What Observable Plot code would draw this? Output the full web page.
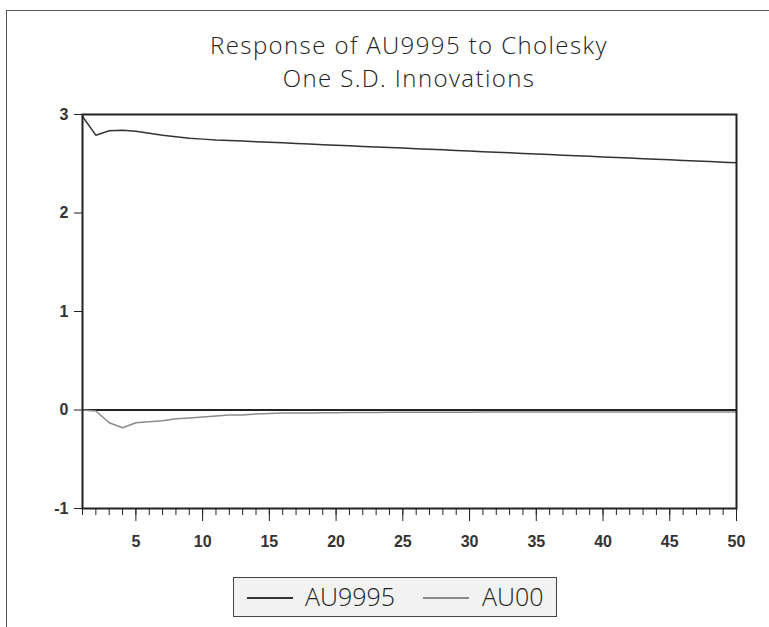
<!DOCTYPE html>
<html><head><meta charset="utf-8">
<script src="https://cdn.jsdelivr.net/npm/d3@7"></script>
<script src="https://cdn.jsdelivr.net/npm/@observablehq/plot@0.6"></script>
<style>
body{margin:0;background:#fff;}
#wrap{position:relative;width:769px;height:627px;overflow:hidden;background:#fff}
#border{position:absolute;left:6px;top:10px;width:800px;height:700px;border-left:1px solid #555;border-top:1px solid #555}
.title{position:absolute;left:59px;width:700px;text-align:center;font-family:"Open Sans",sans-serif;font-weight:300;font-size:24px;letter-spacing:1.4px;line-height:30px;color:#222;white-space:nowrap}
#chart{position:absolute;left:0;top:95px}
#legend{position:absolute;left:233px;top:577px;width:322px;height:38px;border:1px solid #444;background:#f2f2f2;font-family:"Open Sans",sans-serif;font-weight:300;font-size:25px;color:#222}
.sw{position:absolute;top:19px;height:2px;width:46px}
.lt{position:absolute;top:2px;line-height:32px}
</style></head>
<body><div id="wrap">
<div id="border"></div>
<div class="title" style="top:30px">Response of AU9995 to Cholesky</div>
<div class="title" style="top:63px">One S.D. Innovations</div>
<div id="chart"></div>
<div id="legend">
 <div class="sw" style="left:13px;background:#333"></div><div class="lt" style="left:71px">AU9995</div>
 <div class="sw" style="left:189px;background:#8a8a8a"></div><div class="lt" style="left:248px">AU00</div>
</div>
</div>
<script>
const periods = [1,2,3,4,5,6,7,8,9,10,11,12,13,14,15,16,17,18,19,20,21,22,23,24,25,26,27,28,29,30,31,32,33,34,35,36,37,38,39,40,41,42,43,44,45,46,47,48,49,50];
const au9995 = [2.98,2.79,2.835,2.84,2.83,2.81,2.79,2.775,2.76,2.75,2.74,2.735,2.73,2.724,2.718,2.712,2.706,2.700,2.694,2.688,2.682,2.676,2.671,2.665,2.659,2.653,2.647,2.641,2.635,2.629,2.623,2.617,2.611,2.605,2.599,2.593,2.587,2.581,2.575,2.569,2.564,2.558,2.552,2.546,2.540,2.534,2.528,2.522,2.516,2.510];
const au00 = [0.0,-0.01,-0.13,-0.18,-0.13,-0.12,-0.11,-0.09,-0.08,-0.07,-0.06,-0.05,-0.05,-0.04,-0.035,-0.03,-0.03,-0.03,-0.028,-0.027,-0.026,-0.025,-0.025,-0.024,-0.024,-0.023,-0.023,-0.022,-0.022,-0.022,-0.021,-0.021,-0.021,-0.02,-0.02,-0.02,-0.02,-0.02,-0.02,-0.02,-0.02,-0.02,-0.02,-0.02,-0.02,-0.02,-0.02,-0.02,-0.02,-0.02];
const xTicks = [5,10,15,20,25,30,35,40,45,50];
const yTicks = [-1,0,1,2,3];

const d1 = periods.map((p,i)=>({p, v: au9995[i]}));
const d2 = periods.map((p,i)=>({p, v: au00[i]}));
const fmt = d => String(d);

const chart = Plot.plot({
  width: 769, height: 460,
  marginLeft: 82, marginRight: 33, marginTop: 19, marginBottom: 47,
  x: {domain: [1,50], label: null},
  y: {domain: [-1,3], label: null},
  style: {fontFamily: "Liberation Sans, Arial, sans-serif", color: "#222", background: "transparent"},
  marks: [
    Plot.axisY({ticks: yTicks, tickSize: 8, tickPadding: 6, tickFormat: fmt, label: null, fontSize: 16, fontWeight: "bold", fill: "#333"}),
    Plot.axisX({ticks: periods, tickSize: 7, tickFormat: () => "", label: null}),
    Plot.axisX({ticks: xTicks, tickSize: 13, tickPadding: 14, tickFormat: fmt, label: null, fontSize: 16, fontWeight: "bold", fill: "#333"}),
    Plot.ruleY([0], {stroke: "#222", strokeWidth: 2}),
    Plot.line(d2, {x: "p", y: "v", stroke: "#8a8a8a", strokeWidth: 1.5}),
    Plot.line(d1, {x: "p", y: "v", stroke: "#333", strokeWidth: 1.5}),
    Plot.frame({stroke: "#222", strokeWidth: 2})
  ]
});
document.getElementById("chart").appendChild(chart);
</script>
</body></html>
